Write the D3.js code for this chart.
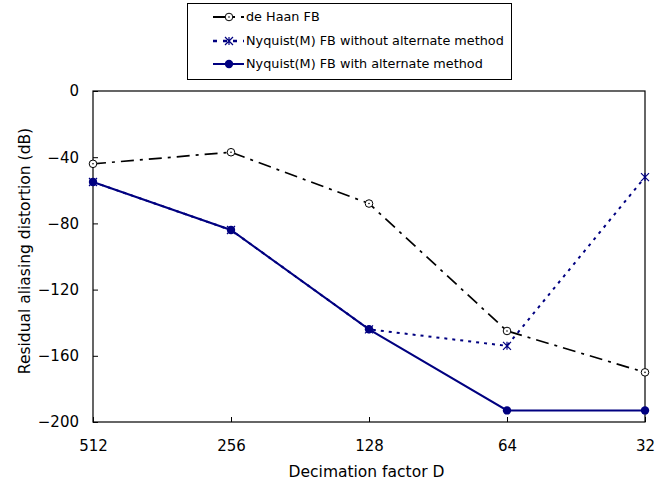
<!DOCTYPE html>
<html>
<head>
<meta charset="utf-8">
<script src="https://cdn.jsdelivr.net/npm/d3@7"></script>
<style>
  html, body { margin: 0; padding: 0; background: #fff; }
  svg text { font-family: "DejaVu Sans", "Noto Sans", sans-serif; fill: #000; }
</style>
</head>
<body>
<svg id="chart" width="656" height="486"></svg>
<script>
// Decimation factors (log2 axis, decreasing to the right)
const decimation = [512, 256, 128, 64, 32];
// Residual aliasing distortion in dB
const deHaan = [-44, -37, -68, -145, -170];
const nyqWithout = [-55, -84, -144, -154, -52];
const nyqWith = [-55, -84, -144, -193, -193];
const yTicks = [0, -40, -80, -120, -160, -200];
const seriesNames = ["de Haan FB", "Nyquist(M) FB without alternate method", "Nyquist(M) FB with alternate method"];

const svg = d3.select("#chart");
const m = { left: 93, top: 91, right: 645, bottom: 422 };
const navy = "#000080";

const x = d3.scaleLog().base(2).domain([512, 32]).range([m.left, m.right]);
const y = d3.scaleLinear().domain([-200, 0]).range([m.bottom, m.top]);

// Plot frame
svg.append("rect")
  .attr("x", m.left).attr("y", m.top)
  .attr("width", m.right - m.left).attr("height", m.bottom - m.top)
  .attr("fill", "none").attr("stroke", "#000").attr("stroke-width", 1.2);

// Y axis (ticks point inward)
const yAxis = svg.append("g").attr("transform", `translate(${m.left},0)`)
  .call(d3.axisLeft(y).tickValues(yTicks).tickSizeInner(-5).tickSizeOuter(0).tickPadding(14)
    .tickFormat(d => d === 0 ? "0" : "\u2212" + Math.abs(d)));
yAxis.select(".domain").remove();
yAxis.selectAll("text").attr("font-size", 15);
yAxis.selectAll("line").attr("stroke", "#000");

// X axis (ticks point inward)
const xAxis = svg.append("g").attr("transform", `translate(0,${m.bottom})`)
  .call(d3.axisBottom(x).tickValues(decimation).tickSizeInner(-5).tickSizeOuter(0).tickPadding(18)
    .tickFormat(d3.format("d")));
xAxis.select(".domain").remove();
xAxis.selectAll("text").attr("font-size", 15);
xAxis.selectAll("line").attr("stroke", "#000");

// Axis titles
svg.append("text").attr("x", 366.5).attr("y", 477)
  .attr("text-anchor", "middle").attr("font-size", 15.5).text("Decimation factor D");
svg.append("text").attr("transform", "translate(25,251) rotate(-90)")
  .attr("text-anchor", "middle").attr("dy", "0.35em").attr("font-size", 15.5)
  .text("Residual aliasing distortion (dB)");

const line = d3.line().x(d => x(d[0])).y(d => y(d[1]));
const pts = vals => decimation.map((d, i) => [d, vals[i]]);

// Series lines
svg.append("path").datum(pts(deHaan)).attr("d", line)
  .attr("fill", "none").attr("stroke", "#000").attr("stroke-width", 1.7)
  .attr("stroke-dasharray", "13,6,3,6");
svg.append("path").datum(pts(nyqWithout)).attr("d", line)
  .attr("fill", "none").attr("stroke", navy).attr("stroke-width", 2)
  .attr("stroke-dasharray", "3,5");
svg.append("path").datum(pts(nyqWith)).attr("d", line)
  .attr("fill", "none").attr("stroke", navy).attr("stroke-width", 2);

// Marker helpers
function openCircle(g, cx, cy) {
  g.append("circle").attr("cx", cx).attr("cy", cy).attr("r", 3.8)
    .attr("fill", "#fff").attr("stroke", "#000").attr("stroke-width", 1);
  g.append("circle").attr("cx", cx).attr("cy", cy).attr("r", 0.8).attr("fill", "#000");
}
function asterisk(g, cx, cy) {
  const s = 4;
  g.append("path")
    .attr("d", `M${cx - s},${cy - s}L${cx + s},${cy + s}M${cx - s},${cy + s}L${cx + s},${cy - s}M${cx},${cy - s}L${cx},${cy + s}`)
    .attr("stroke", navy).attr("stroke-width", 1.2).attr("fill", "none");
}
function filledDot(g, cx, cy) {
  g.append("circle").attr("cx", cx).attr("cy", cy).attr("r", 4.2).attr("fill", navy);
}

const mk = svg.append("g");
pts(deHaan).forEach(d => openCircle(mk, x(d[0]), y(d[1])));
pts(nyqWithout).forEach(d => asterisk(mk, x(d[0]), y(d[1])));
pts(nyqWith).forEach(d => filledDot(mk, x(d[0]), y(d[1])));

// Legend
const lg = svg.append("g");
lg.append("rect").attr("x", 187.5).attr("y", 3.5).attr("width", 324).attr("height", 76)
  .attr("fill", "#fff").attr("stroke", "#000").attr("stroke-width", 1);
const rows = [17, 41, 64];
const lx0 = 213, lx1 = 244, lmx = 229;
// de Haan
lg.append("line").attr("x1", lx0).attr("x2", lx1).attr("y1", rows[0]).attr("y2", rows[0])
  .attr("stroke", "#000").attr("stroke-width", 2.2).attr("stroke-dasharray", "12,6,4,6");
openCircle(lg, lmx, rows[0]);
// without alternate method
lg.append("line").attr("x1", lx0).attr("x2", lx1).attr("y1", rows[1]).attr("y2", rows[1])
  .attr("stroke", navy).attr("stroke-width", 2.5).attr("stroke-dasharray", "4,6");
asterisk(lg, lmx, rows[1]);
// with alternate method
lg.append("line").attr("x1", lx0).attr("x2", lx1).attr("y1", rows[2]).attr("y2", rows[2])
  .attr("stroke", navy).attr("stroke-width", 2);
filledDot(lg, lmx, rows[2]);

seriesNames.forEach((t, i) => {
  lg.append("text").attr("x", 246).attr("y", rows[i]).attr("dy", "0.35em")
    .attr("font-size", 12.8).text(t);
});
</script>
</body>
</html>
